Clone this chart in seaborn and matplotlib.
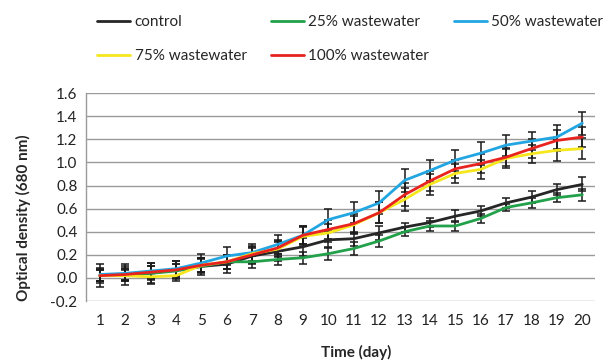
import pandas as pd
import seaborn as sns
import matplotlib.pyplot as plt

days = list(range(1, 21))
control = [0.02, 0.03, 0.04, 0.07, 0.10, 0.12, 0.19, 0.23, 0.27, 0.33,
           0.34, 0.39, 0.44, 0.48, 0.535, 0.58, 0.65, 0.70, 0.765, 0.81]
ww25 = [0.02, 0.03, 0.04, 0.06, 0.10, 0.14, 0.14, 0.16, 0.175, 0.21,
        0.255, 0.32, 0.40, 0.45, 0.45, 0.515, 0.61, 0.65, 0.695, 0.72]
ww50 = [0.03, 0.04, 0.06, 0.08, 0.13, 0.19, 0.22, 0.29, 0.37, 0.505,
        0.565, 0.65, 0.845, 0.93, 1.02, 1.08, 1.15, 1.185, 1.22, 1.34]
ww75 = [0.02, 0.02, 0.01, 0.02, 0.11, 0.14, 0.21, 0.25, 0.36, 0.39,
        0.46, 0.565, 0.68, 0.81, 0.905, 0.94, 1.035, 1.075, 1.105, 1.12]
ww100 = [0.02, 0.03, 0.05, 0.07, 0.11, 0.14, 0.20, 0.26, 0.37, 0.42,
         0.47, 0.565, 0.72, 0.84, 0.945, 0.99, 1.045, 1.12, 1.19, 1.22]

err_control = [0.10, 0.09, 0.09, 0.08, 0.07, 0.08, 0.07, 0.08, 0.08, 0.07,
               0.06, 0.06, 0.04, 0.04, 0.05, 0.04, 0.04, 0.05, 0.05, 0.06]
err_25 = [0.06, 0.06, 0.06, 0.06, 0.06, 0.06, 0.05, 0.05, 0.05, 0.055,
          0.06, 0.055, 0.04, 0.04, 0.04, 0.04, 0.03, 0.04, 0.04, 0.05]
err_50 = [0.06, 0.06, 0.07, 0.07, 0.08, 0.08, 0.07, 0.08, 0.08, 0.09,
          0.09, 0.10, 0.10, 0.09, 0.09, 0.10, 0.09, 0.08, 0.10, 0.10]
err_75 = [0.05, 0.05, 0.05, 0.05, 0.06, 0.06, 0.07, 0.07, 0.08, 0.08,
          0.08, 0.09, 0.10, 0.09, 0.08, 0.08, 0.08, 0.08, 0.09, 0.09]
err_100 = [0.05, 0.05, 0.05, 0.05, 0.06, 0.06, 0.07, 0.07, 0.08, 0.08,
           0.08, 0.09, 0.10, 0.09, 0.08, 0.08, 0.08, 0.08, 0.09, 0.09]

labels = ["control", "25% wastewater", "50% wastewater", "75% wastewater", "100% wastewater"]
colors = ["#262626", "#22a04a", "#22a6e2", "#f6e61c", "#e8231f"]
series = [control, ww25, ww50, ww75, ww100]
errors = [err_control, err_25, err_50, err_75, err_100]

rows = []
for lab, vals in zip(labels, series):
    for d, v in zip(days, vals):
        rows.append({"day": d, "od": v, "group": lab})
df = pd.DataFrame(rows)

sns.set_style("white")
plt.rcParams['font.family'] = ['Lato', 'DejaVu Sans']

fig = plt.figure(figsize=(6.09, 3.61), dpi=100)
ax = fig.add_axes([0.141, 0.166, 0.836, 0.576])

# error bars (black, with caps)
for vals, errs in zip(series, errors):
    ax.errorbar(days, vals, yerr=errs, fmt='none', ecolor='#1a1a1a',
                elinewidth=1.1, capsize=3, capthick=1.1, zorder=2)

sns.lineplot(data=df, x="day", y="od", hue="group", hue_order=labels,
             palette=dict(zip(labels, colors)), linewidth=2.0, ax=ax,
             legend=False, zorder=3)

ax.set_xlim(0.45, 20.5)
ax.set_ylim(-0.2, 1.6)
ax.set_xticks(days)
ax.set_yticks([-0.2, 0.0, 0.2, 0.4, 0.6, 0.8, 1.0, 1.2, 1.4, 1.6])
ax.set_yticklabels(["-0.2", "0.0", "0.2", "0.4", "0.6", "0.8", "1.0", "1.2", "1.4", "1.6"])
ax.tick_params(axis='both', length=0, labelsize=11, colors='#222222', pad=6)
ax.tick_params(axis='x', pad=9)
ax.yaxis.grid(True, color='#9a9a9a', linewidth=1.0)
ax.set_axisbelow(True)
for s in ["top", "right", "bottom"]:
    ax.spines[s].set_visible(False)
ax.spines["left"].set_color('#9a9a9a')
ax.spines["left"].set_linewidth(1.0)

ax.set_xlabel("Time (day)", fontsize=11, fontweight='bold')
ax.set_ylabel("Optical density (680 nm)", fontsize=11, fontweight='bold')
ax.xaxis.set_label_coords(0.53, -0.21)
ax.yaxis.set_label_coords(-0.108, 0.40)

# legend filled column by column: reorder so rows read control, 25%, 50% / 75%, 100%
order = [0, 3, 1, 4, 2]
handles = [plt.Line2D([], [], color=colors[i], lw=2.0) for i in order]
fig.legend(handles, [labels[i] for i in order], ncol=3, loc='upper left',
           bbox_to_anchor=(0.142, 0.988), frameon=False, fontsize=11,
           handlelength=2.15, handletextpad=0.3, columnspacing=1.6,
           labelspacing=1.3, borderaxespad=0.3)

fig.savefig("out.png", dpi=100)
